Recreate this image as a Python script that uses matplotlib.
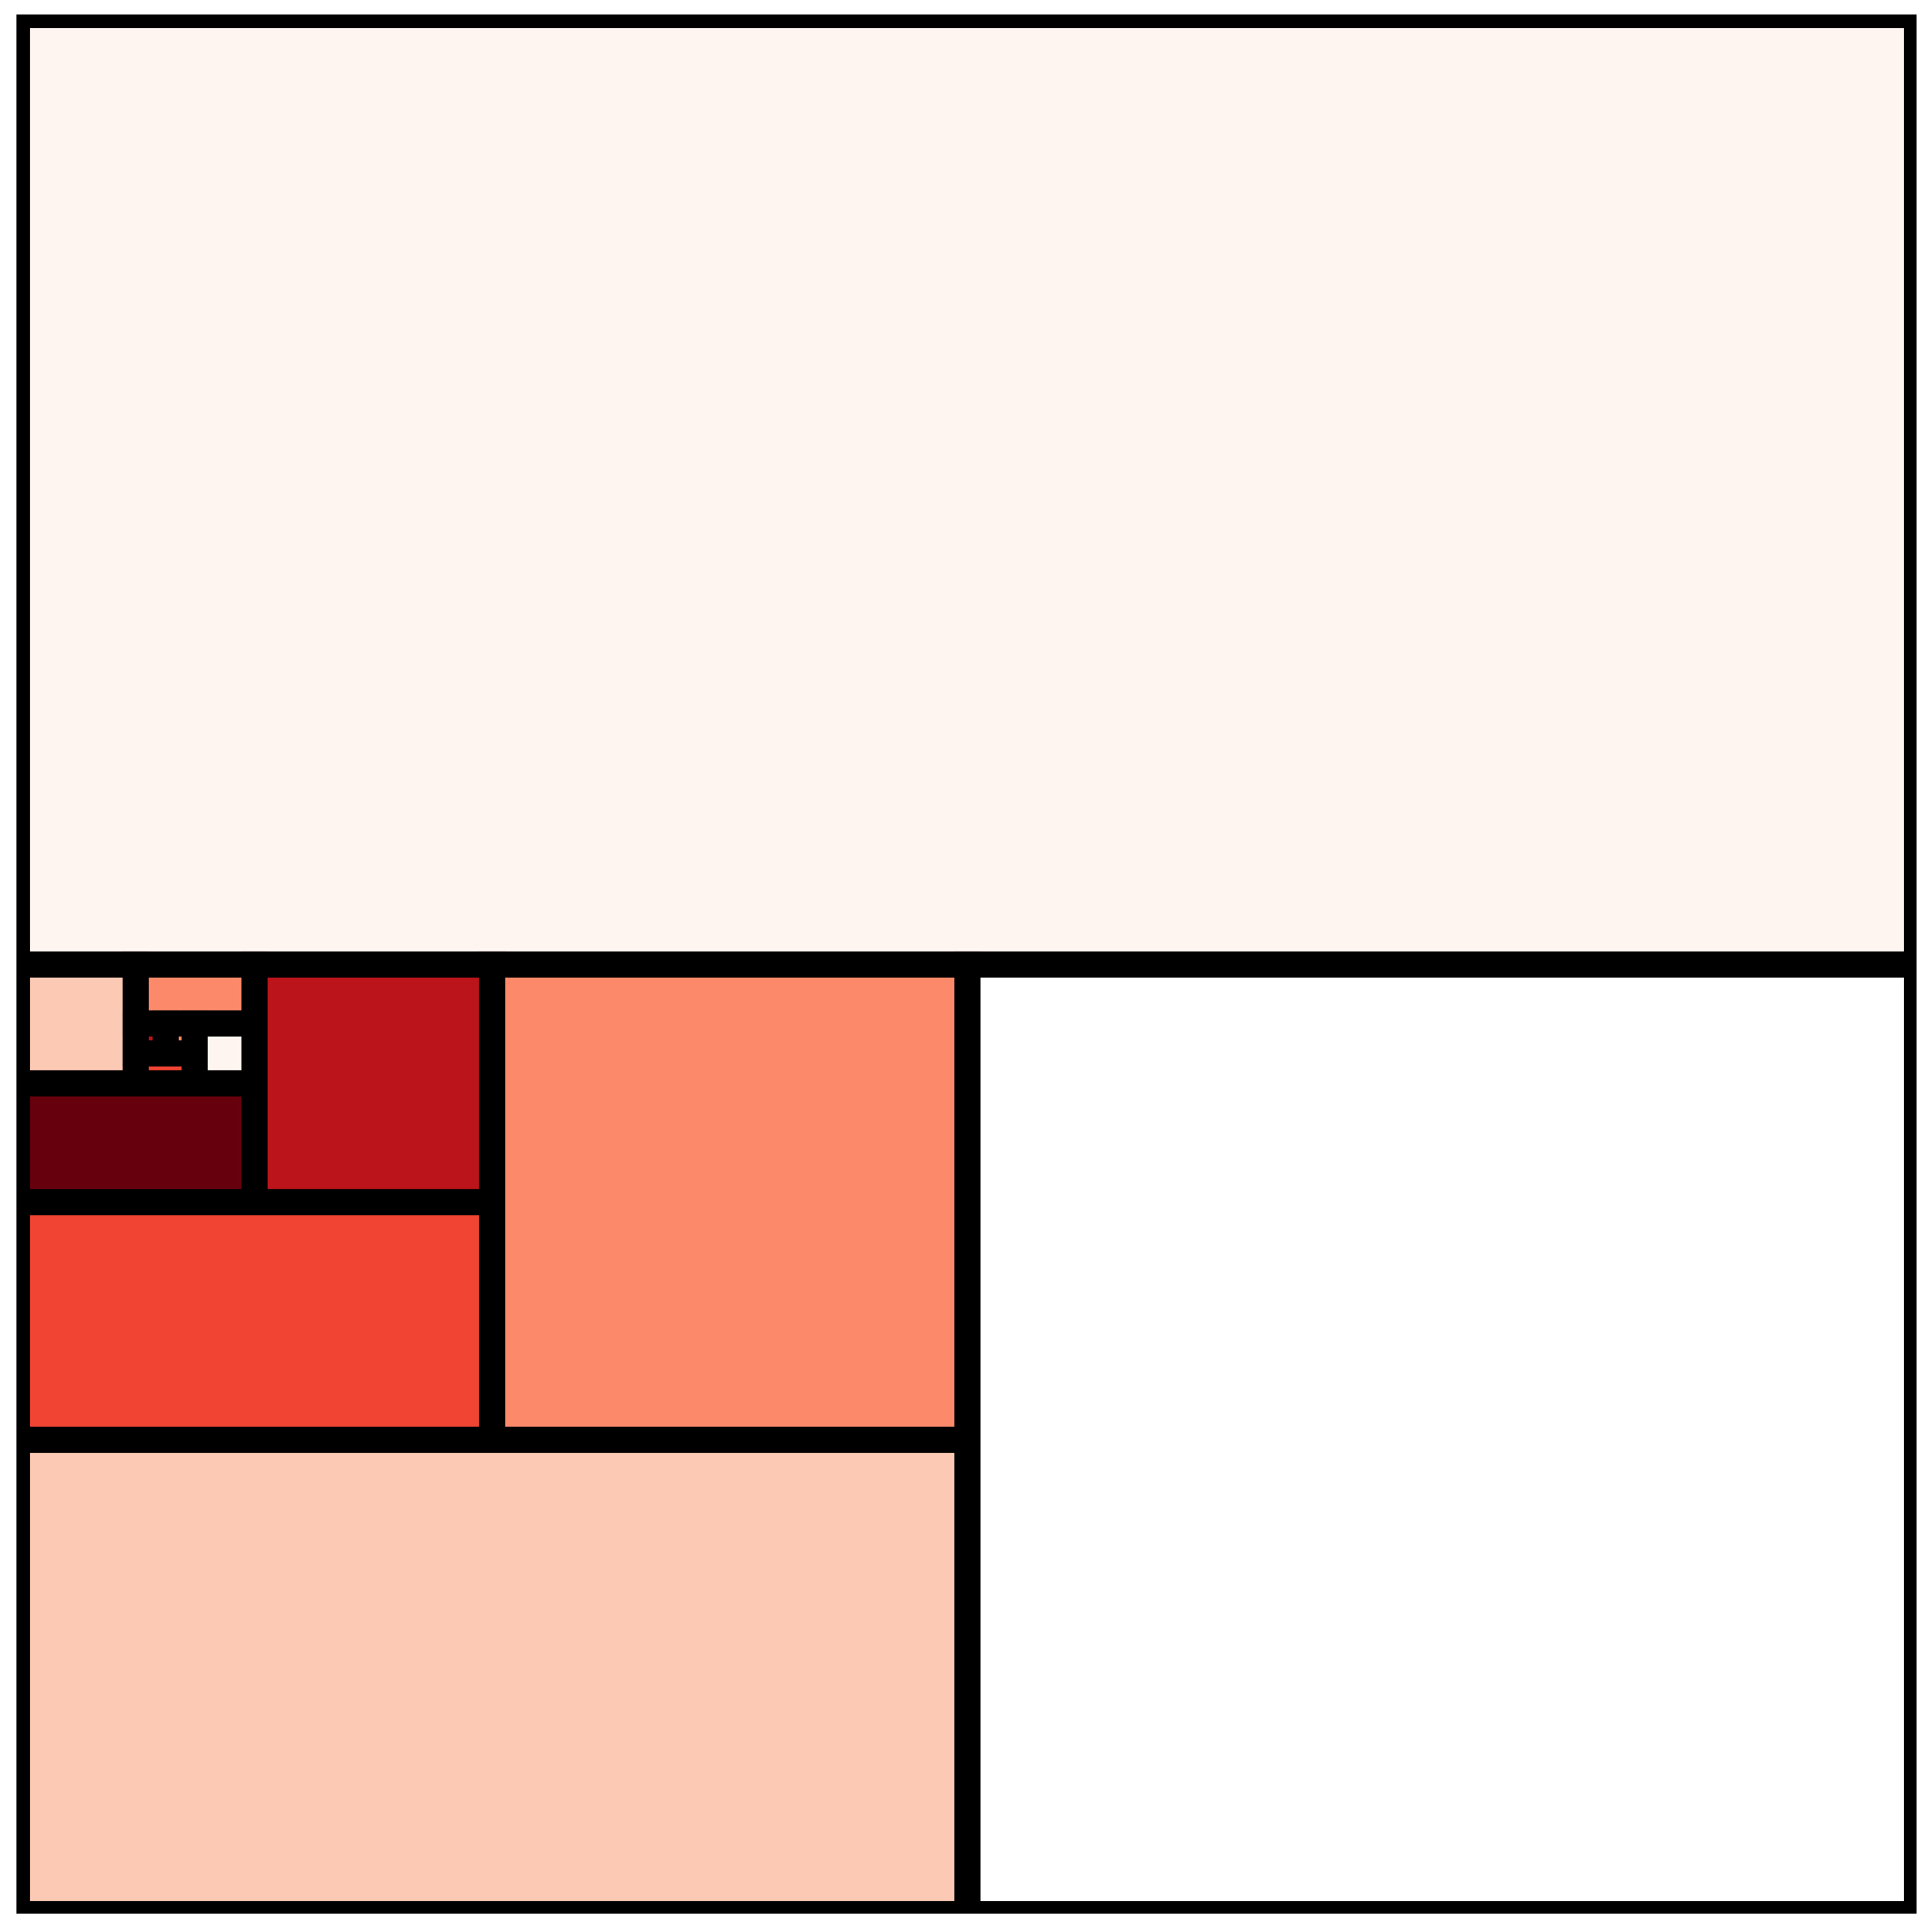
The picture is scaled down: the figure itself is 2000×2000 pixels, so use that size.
import matplotlib
matplotlib.use("Agg")
import matplotlib.pyplot as plt
from matplotlib.patches import Rectangle

# Item values (in data order) and their colours
labels = ["A", "H", "I", "L", "M", "K", "J", "G", "F", "E", "D", "C", "B"]
values = [4096, 32, 16, 2, 2, 4, 8, 64, 128, 256, 512, 1024, 2048]
colors = ["#fff5f0", "#fcc9b4", "#fc8a6a", "#bb141a", "#fc8a6a", "#f14432",
          "#fff5f0", "#67000d", "#bb141a", "#f14432", "#fc8a6a", "#fcc9b4",
          "#ffffff"]


def binary_treemap(vals, x0, y0, x1, y1):
    """d3-style binary treemap layout (y grows downward)."""
    n = len(vals)
    sums = [0]
    for v in vals:
        sums.append(sums[-1] + v)
    rects = [None] * n

    def partition(i, j, value, x0, y0, x1, y1):
        if i >= j - 1:
            rects[i] = (x0, y0, x1, y1)
            return
        offset = sums[i]
        target = value / 2 + offset
        k, hi = i + 1, j - 1
        while k < hi:
            mid = (k + hi) >> 1
            if sums[mid] < target:
                k = mid + 1
            else:
                hi = mid
        if (target - sums[k - 1]) < (sums[k] - target) and i + 1 < k:
            k -= 1
        vl = sums[k] - offset
        vr = value - vl
        if (x1 - x0) > (y1 - y0) + 1e-9:
            xk = (x0 * vr + x1 * vl) / value
            partition(i, k, vl, x0, y0, xk, y1)
            partition(k, j, vr, xk, y0, x1, y1)
        else:
            yk = (y0 * vr + y1 * vl) / value
            partition(i, k, vl, x0, y0, x1, yk)
            partition(k, j, vr, x0, yk, x1, y1)

    partition(0, n, sums[-1], x0, y0, x1, y1)
    return rects


fig = plt.figure(figsize=(20, 20), dpi=100)
ax = fig.add_axes([17 / 2000, 19 / 2000, 1967 / 2000, 1966 / 2000])
ax.set_xlim(0, 100)
ax.set_ylim(100, 0)
ax.axis("off")

for (x0, y0, x1, y1), c in zip(binary_treemap(values, 0, 0, 100, 100), colors):
    ax.add_patch(Rectangle((x0, y0), x1 - x0, y1 - y0, facecolor=c,
                           edgecolor="black", linewidth=19.5))

fig.savefig("out.png", dpi=100)
